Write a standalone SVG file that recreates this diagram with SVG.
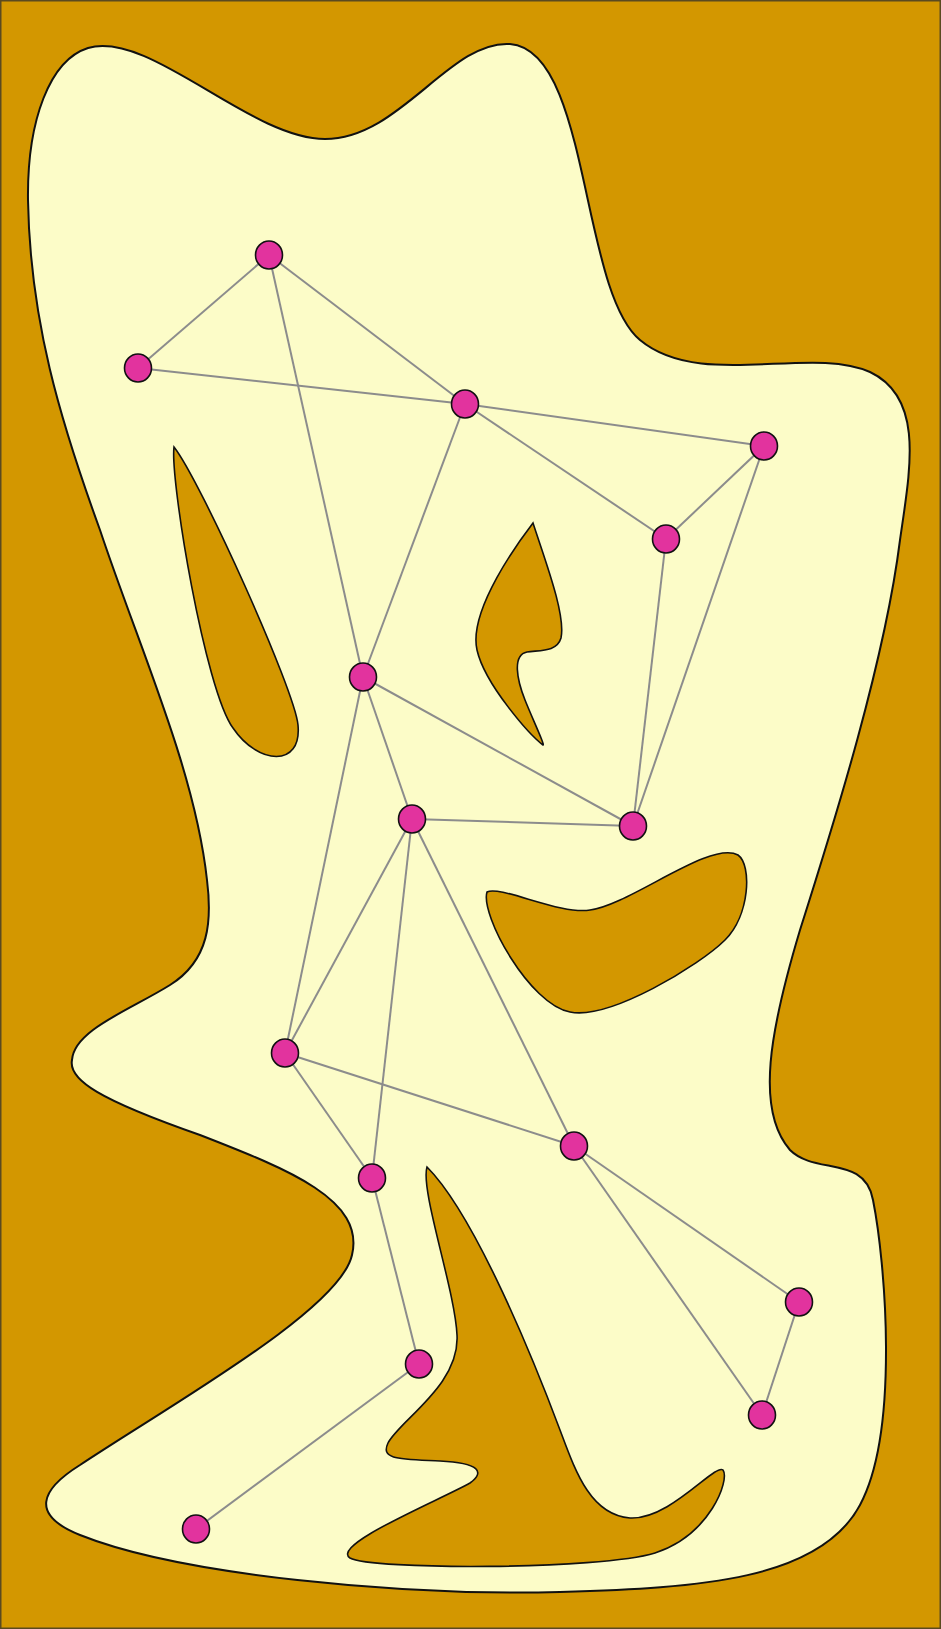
<svg xmlns="http://www.w3.org/2000/svg" width="941" height="1629" viewBox="0 0 941 1629">
<style>
.bg{fill:#d39700;stroke:#5a4a20;stroke-width:1.5}
.land{fill:#fcfcc8;stroke:#111;stroke-width:2}
.hole{fill:#d39700;stroke:#111;stroke-width:1.6}
.edge{stroke:#8c8c8c;stroke-width:2;fill:none}
.node{fill:#e2339e;stroke:#111;stroke-width:1.6}
</style>
<rect class="bg" x="0.75" y="0.75" width="939.5" height="1627.5"/>
<g id="region">
<path class="land" d="M 88,48 C 150,30 250,139 325,139 C 400,139 450,40 510,44 C 590,50 580,290 640,340 C 700,390 810,345 870,372 C 925,398 910,470 900,540 C 885,660 835,820 800,930 C 770,1030 755,1110 790,1150 C 815,1175 865,1155 873,1200 C 885,1260 900,1430 860,1505 C 820,1580 700,1588 560,1592 C 400,1596 180,1575 80,1535 C 30,1515 40,1490 80,1465 C 170,1405 340,1310 352,1255 C 365,1200 290,1170 200,1135 C 100,1100 68,1080 72,1060 C 74,1030 130,1010 170,985 C 210,960 212,920 207,880 C 195,770 140,650 100,530 C 60,420 30,320 28,200 C 27,120 50,60 88,48 Z"/>
<path class="hole" d="M 174,447 C 200,480 295,690 298,725 C 302,768 258,765 233,728 C 205,690 170,480 174,447 Z"/>
<path class="hole" d="M 533,523 C 545,560 566,615 561,638 C 557,652 540,650 527,652 C 512,655 517,680 525,700 C 533,720 545,745 543,745 C 530,735 485,685 477,650 C 468,610 520,540 533,523 Z"/>
<path class="hole" d="M 487,892 C 500,885 560,915 590,910 C 630,905 710,840 738,855 C 752,865 750,915 725,940 C 700,965 610,1020 570,1012 C 530,1005 480,915 487,892 Z"/>
<path class="hole" d="M 427,1167 C 420,1190 455,1290 457,1335 C 460,1385 400,1420 388,1443 C 380,1460 400,1459 440,1461 C 480,1463 485,1472 470,1483 C 440,1500 330,1545 350,1558 C 370,1570 600,1570 655,1553 C 710,1535 730,1480 723,1470 C 715,1463 670,1520 630,1518 C 590,1515 575,1470 560,1430 C 524,1334 470,1210 427,1167 Z"/>
</g>
<g id="connectors">
<line class="edge" x1="269" y1="255" x2="138" y2="368"/>
<line class="edge" x1="269" y1="255" x2="465" y2="404"/>
<line class="edge" x1="269" y1="255" x2="363" y2="677"/>
<line class="edge" x1="138" y1="368" x2="465" y2="404"/>
<line class="edge" x1="465" y1="404" x2="764" y2="446"/>
<line class="edge" x1="465" y1="404" x2="666" y2="539"/>
<line class="edge" x1="465" y1="404" x2="363" y2="677"/>
<line class="edge" x1="764" y1="446" x2="666" y2="539"/>
<line class="edge" x1="764" y1="446" x2="633" y2="826"/>
<line class="edge" x1="666" y1="539" x2="633" y2="826"/>
<line class="edge" x1="363" y1="677" x2="633" y2="826"/>
<line class="edge" x1="363" y1="677" x2="412" y2="819"/>
<line class="edge" x1="363" y1="677" x2="285" y2="1053"/>
<line class="edge" x1="412" y1="819" x2="633" y2="826"/>
<line class="edge" x1="412" y1="819" x2="285" y2="1053"/>
<line class="edge" x1="412" y1="819" x2="372" y2="1178"/>
<line class="edge" x1="412" y1="819" x2="574" y2="1146"/>
<line class="edge" x1="285" y1="1053" x2="574" y2="1146"/>
<line class="edge" x1="285" y1="1053" x2="372" y2="1178"/>
<line class="edge" x1="574" y1="1146" x2="799" y2="1302"/>
<line class="edge" x1="574" y1="1146" x2="762" y2="1415"/>
<line class="edge" x1="799" y1="1302" x2="762" y2="1415"/>
<line class="edge" x1="372" y1="1178" x2="419" y2="1364"/>
<line class="edge" x1="419" y1="1364" x2="196" y2="1529"/>
</g>
<g id="n1"><ellipse class="node" cx="269" cy="255" rx="13.5" ry="14"/></g>
<g id="n2"><ellipse class="node" cx="138" cy="368" rx="13.5" ry="14"/></g>
<g id="n3"><ellipse class="node" cx="465" cy="404" rx="13.5" ry="14"/></g>
<g id="n4"><ellipse class="node" cx="764" cy="446" rx="13.5" ry="14"/></g>
<g id="n5"><ellipse class="node" cx="666" cy="539" rx="13.5" ry="14"/></g>
<g id="n6"><ellipse class="node" cx="363" cy="677" rx="13.5" ry="14"/></g>
<g id="n7"><ellipse class="node" cx="412" cy="819" rx="13.5" ry="14"/></g>
<g id="n8"><ellipse class="node" cx="633" cy="826" rx="13.5" ry="14"/></g>
<g id="n9"><ellipse class="node" cx="285" cy="1053" rx="13.5" ry="14"/></g>
<g id="n10"><ellipse class="node" cx="574" cy="1146" rx="13.5" ry="14"/></g>
<g id="n11"><ellipse class="node" cx="372" cy="1178" rx="13.5" ry="14"/></g>
<g id="n12"><ellipse class="node" cx="799" cy="1302" rx="13.5" ry="14"/></g>
<g id="n13"><ellipse class="node" cx="419" cy="1364" rx="13.5" ry="14"/></g>
<g id="n14"><ellipse class="node" cx="762" cy="1415" rx="13.5" ry="14"/></g>
<g id="n15"><ellipse class="node" cx="196" cy="1529" rx="13.5" ry="14"/></g>
</svg>
